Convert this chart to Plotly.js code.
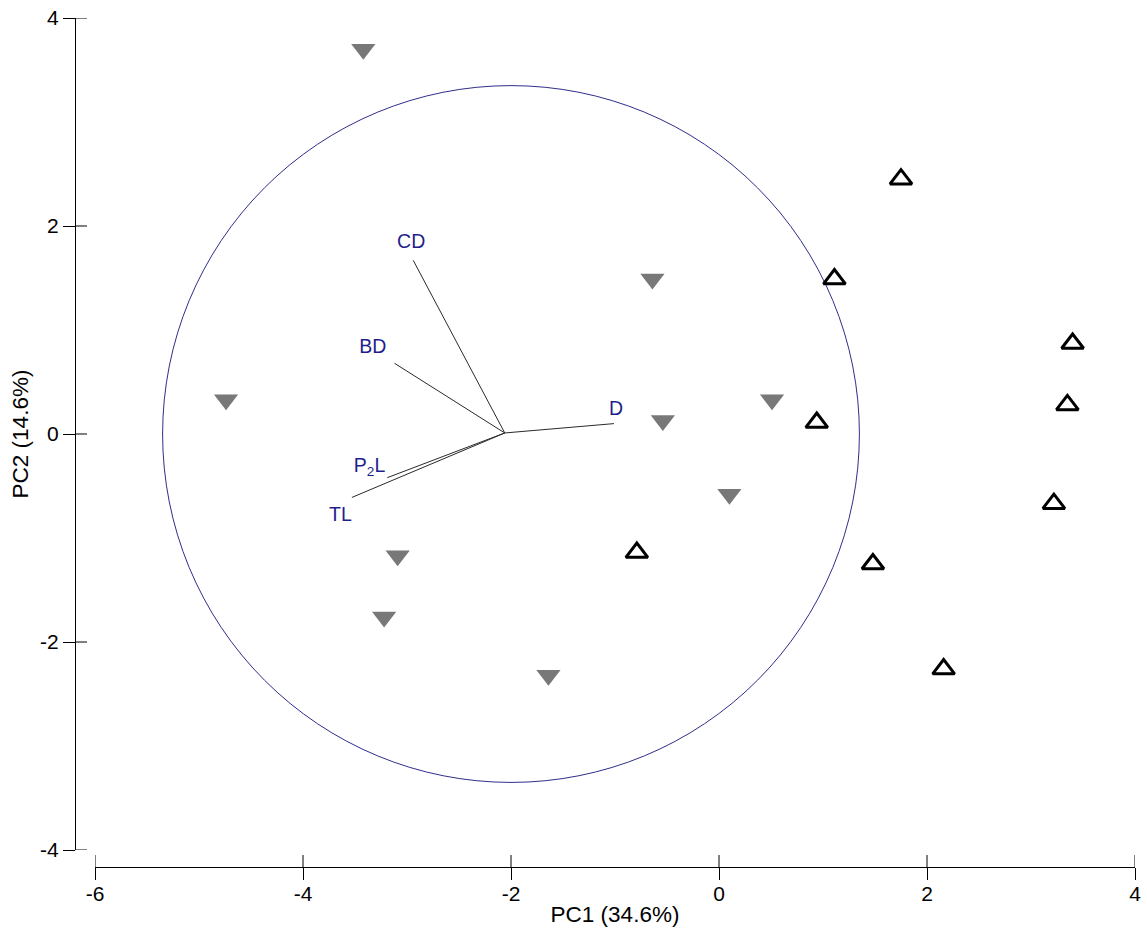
<!DOCTYPE html>
<html>
<head>
<meta charset="utf-8">
<script src="https://cdn.plot.ly/plotly-3.0.1.min.js"></script>
<style>html,body{margin:0;padding:0;background:#fff;}#chart{width:1147px;height:934px;}</style>
</head>
<body>
<div id="chart"></div>
<script>
// Group 1 (filled grey, triangle-down)
const group1X = [-3.42, -4.74, -0.64, -0.54, 0.51, 0.10, -3.09, -3.22, -1.64];
const group1Y = [3.70, 0.33, 1.49, 0.13, 0.33, -0.58, -1.17, -1.76, -2.32];
// Group 2 (open black, triangle-up)
const group2X = [1.75, 1.11, 3.40, 3.35, 0.94, 3.22, 1.48, -0.79, 2.16];
const group2Y = [2.45, 1.49, 0.87, 0.28, 0.11, -0.67, -1.25, -1.14, -2.26];
// Loading vectors (biplot)
const vectorNames = ["CD", "BD", "D", "P<sub>2</sub>L", "TL"];
const vectorOriginX = -2.06;
const vectorOriginY = 0.01;
const vectorEndX = [-2.94, -3.12, -1.01, -3.19, -3.53];
const vectorEndY = [1.67, 0.68, 0.10, -0.42, -0.61];
const labelX = [-2.96, -3.33, -0.99, -3.36, -3.64];
const labelY = [1.84, 0.83, 0.23, -0.32, -0.79];
// Circle
const circleCenterX = -2.0;
const circleCenterY = 0.0;
const circleRadius = 3.35;
// Axes
const xTickVals = [-6, -4, -2, 0, 2, 4];
const xTickText = ["-6", "-4", "-2", "0", "2", "4"];
const yTickVals = [-4, -2, 0, 2, 4];
const yTickText = ["-4", "-2", "0", "2", "4"];
const xTitle = "PC1 (34.6%)";
const yTitle = "PC2 (14.6%)";

const vecX = [], vecY = [];
for (let i = 0; i < vectorEndX.length; i++) {
  vecX.push(vectorOriginX, vectorEndX[i], null);
  vecY.push(vectorOriginY, vectorEndY[i], null);
}

const FONT = "Liberation Sans, Arial, sans-serif";

const traces = [
  {x: vecX, y: vecY, mode: "lines", type: "scatter", line: {color: "#2a2a2a", width: 1}, hoverinfo: "skip", showlegend: false},
  {x: labelX, y: labelY, mode: "text", type: "scatter", text: vectorNames, textfont: {family: FONT, size: 19.5, color: "#1f1f8c"}, showlegend: false},
  {x: group1X, y: group1Y, mode: "markers", type: "scatter", marker: {symbol: "triangle-down", size: 21, color: "#787878"}, showlegend: false},
  {x: group2X, y: group2Y, mode: "markers", type: "scatter", marker: {symbol: "triangle-up-open", size: 19, color: "#000000", line: {width: 3, color: "#000000"}}, showlegend: false}
];

const axBase = {
  showgrid: false, zeroline: false, showline: true, linecolor: "#000", linewidth: 1,
  tickcolor: "#000", tickwidth: 1, ticklen: 12, tickmode: "array"
};

// inner half of the cross-style tick marks (outer half is drawn by the axes)
const tickShapes = [];
xTickVals.forEach(v => tickShapes.push({
  type: "line", xref: "x", yref: "paper", ysizemode: "pixel", yanchor: 0,
  x0: v, x1: v, y0: 0, y1: 12, line: {color: "#000", width: 1}
}));
yTickVals.forEach(v => tickShapes.push({
  type: "line", yref: "y", xref: "paper", xsizemode: "pixel", xanchor: 0,
  y0: v, y1: v, x0: 0, x1: 12, line: {color: "#000", width: 1}
}));

const layout = {
  width: 1147, height: 934,
  margin: {l: 75, r: 12, t: 18, b: 67},
  paper_bgcolor: "#fff", plot_bgcolor: "rgba(0,0,0,0)",
  showlegend: false,
  xaxis: Object.assign({}, axBase, {
    range: [-6, 4], domain: [0.01887, 1], anchor: "free", position: 0,
    ticks: "outside", tickvals: xTickVals, ticktext: xTickText, ticklabelstandoff: -4,
    tickfont: {family: FONT, size: 21, color: "#000"},
    title: {text: xTitle, font: {family: FONT, size: 22.5, color: "#000"}, standoff: 2}
  }),
  yaxis: Object.assign({}, axBase, {
    range: [-4, 4], domain: [0.02, 1], anchor: "free", position: 0,
    ticks: "outside", tickvals: yTickVals, ticktext: yTickText,
    tickfont: {family: FONT, size: 21, color: "#000"},
    title: {text: yTitle, font: {family: FONT, size: 22.5, color: "#000"}, standoff: 4}
  }),
  shapes: [{
    type: "circle", xref: "x", yref: "y",
    x0: circleCenterX - circleRadius, x1: circleCenterX + circleRadius,
    y0: circleCenterY - circleRadius, y1: circleCenterY + circleRadius,
    line: {color: "#2e2e8a", width: 1}, layer: "below"
  }].concat(tickShapes)
};

Plotly.newPlot("chart", traces, layout, {staticPlot: true, displayModeBar: false});
</script>
</body>
</html>
